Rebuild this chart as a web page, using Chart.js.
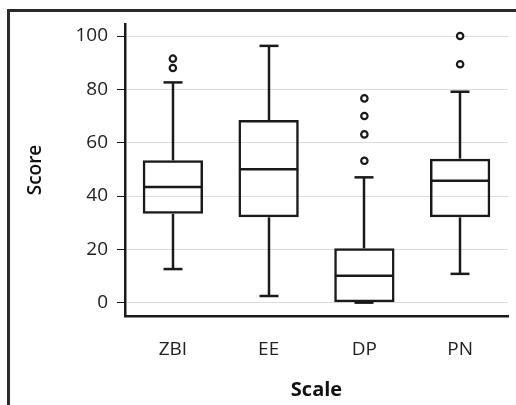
<!DOCTYPE html>
<html>
<head>
<meta charset="utf-8">
<script src="https://cdn.jsdelivr.net/npm/chart.js@4.4.1/dist/chart.umd.min.js"></script>
<style>
  html, body { margin: 0; padding: 0; background: #fff; }
  #wrap { position: relative; width: 516px; height: 405px; overflow: hidden; }
  #frame { position: absolute; left: 7px; top: 9px; width: 600px; height: 500px; border: 3px solid #2b2b2b; pointer-events: none; }
  canvas { position: absolute; left: 0; top: 0; }
</style>
</head>
<body>
<div id="wrap">
  <canvas id="boxChart" width="516" height="405"></canvas>
  <div id="frame"></div>
</div>
<script>
// box plot data
const scaleLabels = ["ZBI", "EE", "DP", "PN"];
const whiskerLow = [12.6, 2.5, 0, 10.8];
const q1 = [33.3, 32, 0, 32];
const median = [43.4, 50, 10.1, 45.7];
const q3 = [53.4, 68.5, 20.4, 54];
const whiskerHigh = [82.6, 96.3, 47, 79.1];
const outliers = [[88, 91.5], [], [53.2, 63.1, 70, 76.6], [89.4, 100]];
const yTicks = [0, 20, 40, 60, 80, 100];

const INK = "#1a1a1a";
const FONT = "'Open Sans', sans-serif";

const whiskerPlugin = {
  id: "whiskers",
  afterDatasetsDraw(chart) {
    const { ctx, scales: { x, y } } = chart;
    const boxes = chart.getDatasetMeta(0).data;
    const cap = 9.5;
    ctx.save();
    ctx.strokeStyle = INK;
    ctx.lineWidth = 2.5;
    scaleLabels.forEach((_, i) => {
      const cx = Math.round(x.getPixelForValue(i));
      const half = boxes[i].width / 2;
      const line = (x1, y1, x2, y2) => {
        ctx.beginPath();
        ctx.moveTo(x1, y1);
        ctx.lineTo(x2, y2);
        ctx.stroke();
      };
      // whiskers
      line(cx, y.getPixelForValue(q3[i]), cx, y.getPixelForValue(whiskerHigh[i]));
      line(cx - cap, y.getPixelForValue(whiskerHigh[i]), cx + cap, y.getPixelForValue(whiskerHigh[i]));
      line(cx, y.getPixelForValue(q1[i]), cx, y.getPixelForValue(whiskerLow[i]));
      line(cx - cap, y.getPixelForValue(whiskerLow[i]), cx + cap, y.getPixelForValue(whiskerLow[i]));
      // median
      line(cx - half + 1, y.getPixelForValue(median[i]), cx + half - 1, y.getPixelForValue(median[i]));
    });
    ctx.restore();
  }
};

const outlierPoints = [];
outliers.forEach((vals, i) => vals.forEach((v) => outlierPoints.push({ x: scaleLabels[i], y: v })));

new Chart(document.getElementById("boxChart"), {
  type: "bar",
  data: {
    labels: scaleLabels,
    datasets: [
      {
        label: "Box",
        data: scaleLabels.map((_, i) => [q1[i], q3[i]]),
        backgroundColor: "rgba(255,255,255,0)",
        borderColor: INK,
        borderWidth: 2.5,
        borderSkipped: false,
        categoryPercentage: 1,
        barPercentage: 0.63
      },
      {
        type: "line",
        label: "Outliers",
        data: outlierPoints,
        showLine: false,
        pointRadius: 3.2,
        pointBorderWidth: 2.2,
        pointBorderColor: INK,
        pointBackgroundColor: "#fff"
      }
    ]
  },
  options: {
    responsive: false,
    animation: false,
    layout: { padding: { top: 24, right: 8, left: 0, bottom: 0 } },
    plugins: { legend: { display: false }, tooltip: { enabled: false } },
    scales: {
      x: {
        afterFit: (s) => { s.height = 89; },
        grid: { display: true, drawOnChartArea: false, drawTicks: false },
        border: { color: INK, width: 2.5 },
        ticks: { padding: 22, color: "#222", font: { family: FONT, size: 19 } },
        title: {
          display: true, text: "Scale", color: "#111",
          font: { family: FONT, size: 20, weight: "bold" },
          padding: { top: 0, bottom: 3 }
        }
      },
      y: {
        min: -5,
        max: 104.5,
        afterBuildTicks: (s) => { s.ticks = yTicks.map((v) => ({ value: v })); },
        afterFit: (s) => { s.width = 125; },
        grid: { color: "#dcdcdc", tickColor: INK, tickLength: 8, lineWidth: 1 },
        border: { color: INK, width: 2.5 },
        ticks: { padding: 9, color: "#222", font: { family: FONT, size: 19 } },
        title: {
          display: true, text: "Score", color: "#111",
          font: { family: FONT, size: 19, weight: "600" },
          padding: { top: 24, bottom: 0 }
        }
      }
    }
  },
  plugins: [whiskerPlugin]
});
</script>
</body>
</html>
